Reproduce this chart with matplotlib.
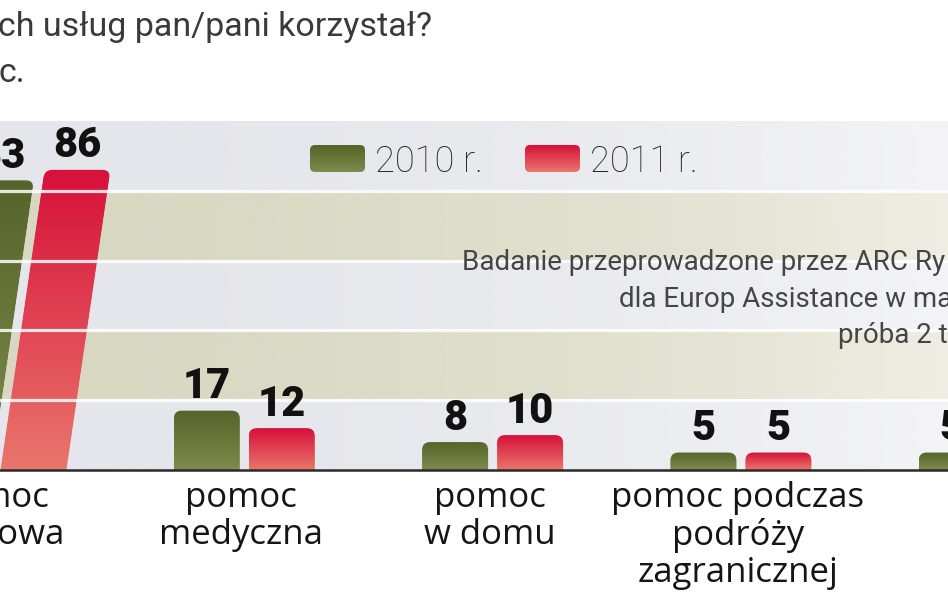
import numpy as np
import matplotlib
matplotlib.use("Agg")
import matplotlib.pyplot as plt
from matplotlib.patches import FancyBboxPatch
from matplotlib.transforms import Affine2D
from matplotlib.colors import LinearSegmentedColormap, to_rgba

# ---------------- data ----------------
categories = ["pomoc\ndrogowa", "pomoc\nmedyczna", "pomoc\nw domu",
              "pomoc podczas\npodróży\nzagranicznej", ""]
series_names = ["2010 r.", "2011 r."]
values_2010 = [83, 17, 8, 5, 5]
values_2011 = [86, 12, 10, 5, np.nan]
band_edges = [0, 20, 40, 60, 80, 100]
title_lines = ["ch usług pan/pani korzystał?", "c."]
note_lines = ["Badanie przeprowadzone przez ARC Ry",
              "dla Europ Assistance w ma",
              "próba 2 t"]

# ---------------- style ----------------
W, H = 948, 593
GROUP_PX = 248.3
X0_PX = -4.0
BASE_PY = 470.0
PX_PER_UNIT = 3.49
BAR_W = 0.266
BAR_OFF = 0.151
SKEW = [0.00206, 0, 0, 0, 0]        # perspective tilt of the first group
GREEN = ("#55642a", "#7f8b4c")      # top, bottom
RED = ("#d6103a", "#ea766c")
BAND_COLORS = ["#e5e6eb", "#d8d8c2"]
NUM_FONT = ["Roboto", "DejaVu Sans"]
TXT_FONT = ["Roboto", "DejaVu Sans"]
CAT_FONT = ["Open Sans", "DejaVu Sans"]
NOTE_X = [462, 619, 838]
NOTE_BASE = [270, 307, 343]

fig = plt.figure(figsize=(W / 100, H / 100), dpi=100)
ax = fig.add_axes([0, 0, 1, 1])
ax.set_axis_off()

xlim = ((0 - X0_PX) / GROUP_PX, (W - X0_PX) / GROUP_PX)
ylim = (-(H - BASE_PY) / PX_PER_UNIT, BASE_PY / PX_PER_UNIT)
aspect = GROUP_PX / PX_PER_UNIT


def px2x(px):
    return (px - X0_PX) / GROUP_PX


def py2y(py):
    return (BASE_PY - py) / PX_PER_UNIT


# background bands with fading to the right
for i in range(len(band_edges) - 1):
    c = to_rgba(BAND_COLORS[i % 2])
    n = 200
    img = np.zeros((1, n, 4))
    img[0, :, :3] = c[:3]
    t = np.linspace(0, 1, n)
    img[0, :, 3] = 1.0 - 0.55 * t ** 2
    ax.imshow(img, extent=[xlim[0], xlim[1], band_edges[i], band_edges[i + 1]],
              aspect="auto", origin="lower", zorder=0, interpolation="bilinear")


def grad_bar(x, h, w, colors, skew, zorder=3):
    tr = Affine2D(np.array([[1, skew, 0], [0, 1, 0], [0, 0, 1]])) + ax.transData
    r = 8.0 / GROUP_PX
    patch = FancyBboxPatch((x - w / 2, -5), w, h + 5,
                           boxstyle=f"round,pad=0,rounding_size={r}",
                           mutation_aspect=aspect, transform=tr,
                           facecolor="none", edgecolor="none")
    ax.add_patch(patch)
    cmap = LinearSegmentedColormap.from_list("g", [colors[1], colors[0]])
    grad = np.linspace(0, 1, 256)[:, None]
    im = ax.imshow(grad, cmap=cmap, extent=[x - w / 2, x + w / 2, 0, h],
                   origin="lower", aspect="auto", transform=tr,
                   zorder=zorder, interpolation="bilinear")
    im.set_clip_path(patch)
    return x + skew * h


for i, cat in enumerate(categories):
    for vals, cols, off in ((values_2010, GREEN, -BAR_OFF), (values_2011, RED, BAR_OFF)):
        v = vals[i]
        if v is None or np.isnan(v):
            continue
        xt = grad_bar(i + off, v, BAR_W, cols, SKEW[i])
        ax.annotate(f"{v:g}", xy=(xt, v), xytext=(0, 9), textcoords="offset points",
                    ha="center", va="baseline", fontsize=30, fontweight="black",
                    family=NUM_FONT, color="#111111", zorder=6, annotation_clip=False)
    ax.text(px2x(X0_PX + i * GROUP_PX - 3), py2y(481), cat, ha="center", va="top",
            fontsize=25, family=CAT_FONT, color="#151515", linespacing=1.12, zorder=6)

# white separators and baseline
for y in band_edges[1:-1]:
    ax.axhline(y, color="white", lw=2.3, alpha=0.85, zorder=4)
ax.axhline(0, color="#2a2a2a", lw=1.8, zorder=5)

# legend
leg = [(310, series_names[0], GREEN), (525, series_names[1], RED)]
for lx, name, cols in leg:
    x0, x1 = lx / W, (lx + 55) / W
    y0, y1 = 1 - 172 / H, 1 - 145 / H
    trA = ax.transAxes
    p = FancyBboxPatch((x0, y0), x1 - x0, y1 - y0,
                       boxstyle=f"round,pad=0,rounding_size={5 / W}",
                       mutation_aspect=W / H, transform=trA,
                       facecolor="none", edgecolor="none")
    ax.add_patch(p)
    cmap = LinearSegmentedColormap.from_list("l", [cols[1], cols[0]])
    im = ax.imshow(np.linspace(0, 1, 64)[:, None], cmap=cmap, extent=[x0, x1, y0, y1],
                   origin="lower", aspect="auto", transform=trA, zorder=6)
    im.set_clip_path(p)
    ax.text((lx + 65) / W, 1 - 172 / H, name, transform=trA, ha="left", va="baseline",
            fontsize=26, family=TXT_FONT, fontweight="light", color="#262626", zorder=6)

# note
for line, nx, nb in zip(note_lines, NOTE_X, NOTE_BASE):
    ax.text(nx / W, 1 - nb / H, line, transform=ax.transAxes,
            ha="left", va="baseline", fontsize=20, family=TXT_FONT,
            color="#454545", zorder=6)

# title fragments
ax.text(-2 / W, 1 - 36 / H, title_lines[0], transform=ax.transAxes, ha="left",
        va="baseline", fontsize=24.5, family=TXT_FONT, color="#3a3a3a")
ax.text(-2 / W, 1 - 82 / H, title_lines[1], transform=ax.transAxes, ha="left",
        va="baseline", fontsize=24.5, family=TXT_FONT, color="#3a3a3a")

ax.set_xlim(*xlim)
ax.set_ylim(*ylim)
fig.savefig("out.png", dpi=100)
